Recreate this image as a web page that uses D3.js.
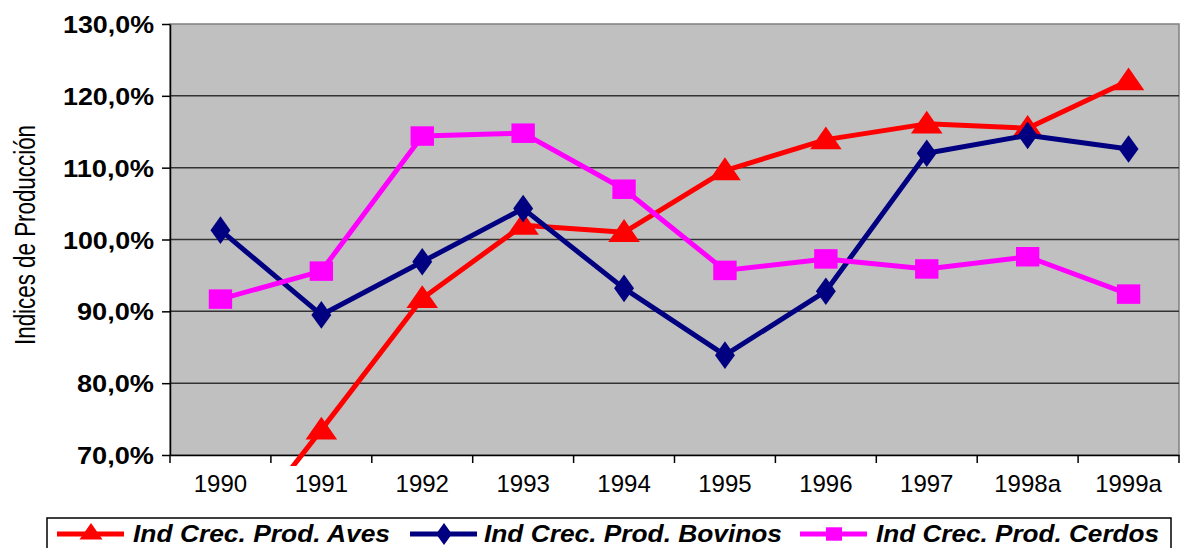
<!DOCTYPE html>
<html>
<head>
<meta charset="utf-8">
<script src="https://cdn.jsdelivr.net/npm/d3@7"></script>
<style>
  body { margin: 0; background: #fff; }
  svg { display: block; font-family: "Liberation Sans", Arial, sans-serif; }
</style>
</head>
<body>
<script>
// categories and series values (percent)
var years = ["1990", "1991", "1992", "1993", "1994", "1995", "1996", "1997", "1998a", "1999a"];
var aves = [55.5, 73.5, 91.8, 102.0, 101.0, 109.6, 113.9, 116.1, 115.5, 122.1];
var bovinos = [101.3, 89.5, 96.9, 104.3, 93.2, 83.9, 92.8, 112.0, 114.5, 112.6];
var cerdos = [91.7, 95.6, 114.4, 114.8, 107.0, 95.7, 97.3, 95.9, 97.6, 92.4];
var yTicks = [70, 80, 90, 100, 110, 120, 130];

var series = [
  { name: "Ind Crec. Prod. Aves", values: aves, color: "#ff0000", shape: "tri" },
  { name: "Ind Crec. Prod. Bovinos", values: bovinos, color: "#000080", shape: "dia" },
  { name: "Ind Crec. Prod. Cerdos", values: cerdos, color: "#ff00ff", shape: "sq" }
];

var width = 1181, height = 548;
var m = { left: 170, right: 1179, top: 24, bottom: 455 };

var svg = d3.select("body").append("svg")
  .attr("width", width)
  .attr("height", height);

var x = d3.scaleBand().domain(years).range([m.left, m.right]);
var y = d3.scaleLinear().domain([70, 130]).range([m.bottom, m.top]);
var cx = function(d, i) { return x(years[i]) + x.bandwidth() / 2; };

// plot area
svg.append("rect")
  .attr("x", m.left).attr("y", m.top)
  .attr("width", m.right - m.left).attr("height", m.bottom - m.top)
  .attr("fill", "#c0c0c0")
  .attr("stroke", "#808080")
  .attr("stroke-width", 1.5);

// gridlines
svg.selectAll(".grid")
  .data(yTicks.slice(1, -1))
  .enter().append("line")
  .attr("x1", m.left).attr("x2", m.right)
  .attr("y1", function(d) { return y(d); })
  .attr("y2", function(d) { return y(d); })
  .attr("stroke", "#333")
  .attr("stroke-width", 1.5);

// y axis
var yAxis = svg.append("g")
  .attr("transform", "translate(" + m.left + ",0)")
  .call(d3.axisLeft(y).tickValues(yTicks).tickSize(8).tickSizeOuter(0)
    .tickFormat(function(d) { return d3.format(".1f")(d).replace(".", ",") + "%"; }));
yAxis.select(".domain").attr("stroke", "#000").attr("stroke-width", 1.5);
yAxis.selectAll(".tick line").attr("stroke", "#000").attr("stroke-width", 1.5);
yAxis.selectAll(".tick text")
  .attr("x", -16)
  .attr("dy", "0.36em")
  .attr("fill", "#000")
  .style("font-size", "24px")
  .style("font-weight", "bold")
  .attr("textLength", function(d) { return d >= 100 ? 91 : 77; })
  .attr("lengthAdjust", "spacingAndGlyphs");

// x axis
var xAxis = svg.append("g")
  .attr("transform", "translate(0," + m.bottom + ")")
  .call(d3.axisBottom(x).tickSize(0).tickSizeOuter(0));
xAxis.select(".domain").attr("stroke", "#000").attr("stroke-width", 1.5);
xAxis.selectAll(".tick text")
  .attr("y", 20)
  .attr("dy", "0.71em")
  .attr("fill", "#000")
  .style("font-size", "24px");
// tick marks between categories
svg.selectAll(".xtick")
  .data(years.concat([null]))
  .enter().append("line")
  .attr("x1", function(d, i) { return m.left + i * x.bandwidth(); })
  .attr("x2", function(d, i) { return m.left + i * x.bandwidth(); })
  .attr("y1", m.bottom).attr("y2", m.bottom + 8)
  .attr("stroke", "#000").attr("stroke-width", 1.5);

// y axis title
svg.append("text")
  .attr("transform", "translate(35,235) rotate(-90)")
  .attr("text-anchor", "middle")
  .style("font-size", "30px")
  .attr("textLength", 220)
  .attr("lengthAdjust", "spacingAndGlyphs")
  .text("Indices de Producción");

// clip for lines
svg.append("clipPath").attr("id", "clip")
  .append("rect").attr("x", m.left).attr("y", 0).attr("width", m.right - m.left + 20).attr("height", 466);

var line = d3.line().x(cx).y(function(d) { return y(d); });

var markers = {
  tri: d3.symbol().type(d3.symbolTriangle).size(300),
  dia: d3.symbol().type(d3.symbolDiamond).size(220),
  sq: d3.symbol().type(d3.symbolSquare).size(380)
};
var markerScale = { tri: "scale(1.2,1)", dia: "scale(1.25,1)", sq: "scale(1.2,1)" };

var plot = svg.append("g").attr("clip-path", "url(#clip)");

series.forEach(function(s) {
  plot.append("path")
    .datum(s.values)
    .attr("d", line)
    .attr("fill", "none")
    .attr("stroke", s.color)
    .attr("stroke-width", 5)
    .attr("stroke-linejoin", "round");
  plot.selectAll(null)
    .data(s.values)
    .enter().append("path")
    .attr("transform", function(d, i) {
      return "translate(" + cx(d, i) + "," + (y(d) + (s.shape === "tri" ? 2 : 0)) + ") " + markerScale[s.shape];
    })
    .attr("d", markers[s.shape])
    .attr("fill", s.color);
});

// legend
svg.append("rect")
  .attr("x", 47).attr("y", 518)
  .attr("width", 1124).attr("height", 60)
  .attr("fill", "#fff")
  .attr("stroke", "#000")
  .attr("stroke-width", 1.5);

var legendItems = [
  { lx: 57, tx: 133, tw: 257 },
  { lx: 410, tx: 484, tw: 298 },
  { lx: 800, tx: 876, tw: 283 }
];

series.forEach(function(s, i) {
  var it = legendItems[i];
  var g = svg.append("g");
  g.append("line")
    .attr("x1", it.lx).attr("x2", it.lx + 67)
    .attr("y1", 534).attr("y2", 534)
    .attr("stroke", s.color).attr("stroke-width", 5);
  g.append("path")
    .attr("transform", "translate(" + (it.lx + 34) + ",534) " + markerScale[s.shape])
    .attr("d", d3.symbol().type(s.shape === "tri" ? d3.symbolTriangle : s.shape === "dia" ? d3.symbolDiamond : d3.symbolSquare)
      .size(s.shape === "tri" ? 160 : s.shape === "dia" ? 140 : 180))
    .attr("fill", s.color);
  g.append("text")
    .attr("x", it.tx).attr("y", 542)
    .style("font-size", "24px")
    .style("font-weight", "bold")
    .style("font-style", "italic")
    .attr("textLength", it.tw)
    .attr("lengthAdjust", "spacingAndGlyphs")
    .text(s.name);
});
</script>
</body>
</html>
